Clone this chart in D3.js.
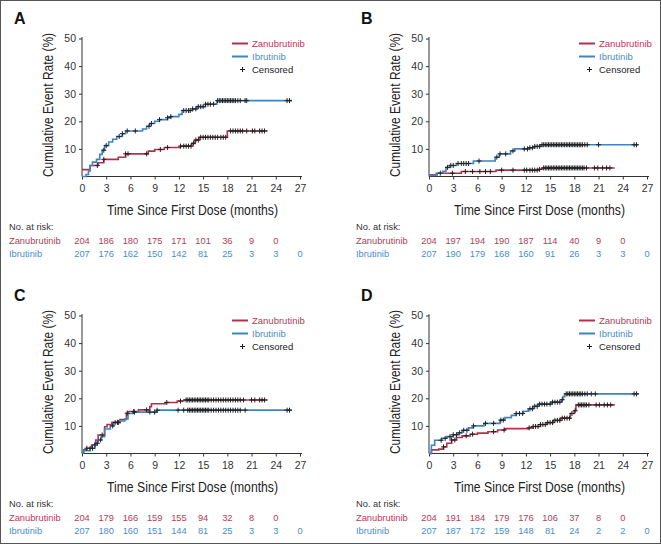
<!DOCTYPE html>
<html><head><meta charset="utf-8">
<script src="https://cdn.jsdelivr.net/npm/d3@7"></script>
<style>body{margin:0;background:#fff}svg{display:block}</style>
</head><body><svg id="c" width="661" height="544"></svg>
<script>
// ---------- DATA ----------
const months = [0,3,6,9,12,15,18,21,24,27];
const yTicks = [10,20,30,40,50];
const seriesNames = ["Zanubrutinib","Ibrutinib"];
const panelLabels = ["A","B","C","D"];

// step points [month, cumulative %]
const A_zanu = [[0,2.5],[1.0,4.0],[2.0,5.0],[2.7,6.2],[4.5,7.0],[5.4,8.2],[8.2,9.2],[9.0,9.8],[10.2,10.5],[12.2,11.0],[13.6,12.0],[14.0,13.2],[14.5,14.2],[18.0,16.5]];
const A_zanuEnd = 23.0;
const A_ibru = [[0,0],[0.5,0.7],[0.8,2.0],[1.0,4.0],[1.3,5.2],[1.8,6.2],[2.2,8.0],[2.5,9.5],[2.8,11.2],[3.3,12.5],[3.8,13.5],[4.3,14.5],[5.0,15.5],[5.4,16.5],[7.5,17.2],[8.0,18.2],[8.4,19.2],[9.0,20.0],[9.6,20.6],[10.6,21.3],[11.0,21.7],[12.0,22.5],[12.4,23.9],[13.7,24.5],[14.2,25.3],[15.3,26.2],[16.7,27.5]];
const A_ibruEnd = 26.0;
const A_zanuCens = [1.9,2.7,5.4,5.7,8.0,9.7,10.6,12.2,12.6,12.9,13.2,13.5,13.8,14.1,14.4,14.7,15.0,15.3,15.6,15.9,16.2,16.5,16.8,17.2,17.5,17.8,18.4,18.7,19.0,19.3,19.6,19.9,20.4,21.1,21.4,22.0,22.3,22.6];
const A_ibruCens = [2.7,3.0,4.6,5.0,5.6,6.6,8.3,8.6,9.6,10.6,11.0,12.6,12.9,13.2,13.4,13.7,14.1,14.4,14.7,15.0,15.3,15.6,15.9,16.3,16.8,17.0,17.2,17.4,17.6,17.8,18.0,18.2,18.4,18.6,18.8,19.0,19.3,19.6,20.2,20.4,25.4,25.7];

const B_zanu = [[0,0.6],[1.0,1.2],[4.0,1.8],[8.3,2.3],[13.6,2.6],[14.0,3.1]];
const B_zanuEnd = 23.0;
const B_ibru = [[0,0.4],[0.9,1.2],[1.7,1.9],[2.1,3.3],[2.6,4.0],[3.4,4.7],[5.5,5.6],[8.2,7.0],[8.7,8.2],[10.1,9.3],[10.6,10.0],[12.3,10.4],[13.1,10.9],[13.8,11.5]];
const B_ibruEnd = 25.9;
const B_zanuCens = [2.9,4.5,5.4,6.3,7.0,7.6,9.0,10.4,11.8,12.1,12.5,12.8,13.1,13.4,13.7,14.2,14.4,14.6,14.8,15.0,15.2,15.4,15.6,15.8,16.0,16.2,16.4,16.6,16.8,17.0,17.2,17.4,17.6,17.8,18.0,18.2,18.4,18.6,18.8,19.0,19.2,19.5,20.5,20.9,21.5,22.0,22.4];
const B_ibruCens = [1.4,2.3,2.7,3.0,3.6,4.0,4.3,4.6,4.9,6.2,8.4,8.8,9.5,10.4,11.8,12.2,12.5,12.8,13.1,13.4,13.7,14.0,14.2,14.4,14.6,14.8,15.0,15.2,15.4,15.6,15.8,16.0,16.2,16.4,16.6,16.8,17.0,17.2,17.4,17.6,17.8,18.0,18.2,18.4,18.6,18.8,19.0,19.3,19.6,21.0,25.4,25.7];

const C_zanu = [[0,0.3],[0.2,1.3],[0.6,1.9],[1.2,3.1],[1.7,4.9],[2.0,6.7],[2.8,9.7],[3.1,10.5],[3.7,11.3],[4.7,12.3],[5.5,14.6],[5.7,15.2],[7.0,15.8],[8.4,17.0],[8.6,18.0],[10.3,18.5],[11.8,19.0],[12.6,19.4]];
const C_zanuEnd = 23.0;
const C_ibru = [[0,0.3],[0.2,1.0],[1.0,1.9],[1.6,3.7],[2.0,4.9],[2.4,6.1],[2.8,8.9],[3.5,10.0],[3.9,11.2],[4.7,11.8],[5.3,12.5],[5.7,14.5],[6.3,15.0],[9.3,15.7]];
const C_ibruEnd = 26.0;
const C_zanuCens = [0.6,1.0,1.6,2.5,4.4,5.6,6.4,8.0,10.5,12.2,12.9,13.1,13.3,13.5,13.7,13.9,14.1,14.3,14.5,14.7,14.9,15.1,15.3,15.5,15.7,16.0,16.3,16.6,16.9,17.2,17.5,17.8,18.1,18.4,18.7,19.0,19.3,19.6,20.0,21.0,21.4,22.0,22.3,22.6];
const C_ibruCens = [1.3,1.9,2.3,3.8,4.1,4.5,6.5,8.4,9.0,9.3,11.9,12.6,13.1,13.3,13.5,13.7,13.9,14.1,14.3,14.5,14.7,14.9,15.1,15.3,15.5,15.7,16.0,16.3,16.6,16.9,17.2,17.5,17.8,18.1,18.4,18.7,19.0,19.3,19.6,20.2,25.4,25.7];

const D_zanu = [[0,0],[0.3,1.3],[1.2,1.6],[1.8,2.4],[2.2,3.7],[2.8,4.9],[3.4,5.8],[4.1,6.4],[5.1,7.0],[6.0,7.4],[7.3,7.9],[8.5,8.5],[9.4,9.0],[12.3,9.3],[12.9,9.8],[13.8,10.5],[14.6,11.2],[15.4,12.0],[16.3,12.8],[17.5,14.5],[18.0,15.5],[18.2,17.6]];
const D_zanuEnd = 23.0;
const D_ibru = [[0,0],[0.3,3.0],[0.7,4.8],[1.6,5.5],[2.2,6.1],[3.0,6.8],[3.6,7.5],[4.1,8.4],[4.9,9.3],[5.5,10.0],[6.8,10.9],[8.8,12.1],[9.4,13.0],[10.2,13.8],[10.8,14.5],[11.7,15.3],[12.3,16.2],[12.9,17.1],[13.5,17.9],[15.1,18.6],[16.4,19.5],[16.6,20.6],[16.8,21.6]];
const D_ibruEnd = 26.0;
const D_zanuCens = [1.8,2.8,3.2,4.6,5.4,8.0,9.3,12.4,12.9,13.2,13.5,13.8,14.1,14.4,14.7,15.0,15.3,15.6,15.9,16.2,16.5,16.8,17.1,17.4,17.7,18.1,18.5,18.7,18.9,19.1,19.3,19.5,19.8,20.7,21.1,21.7,22.1,22.5];
const D_ibruCens = [1.5,2.0,2.6,3.0,3.4,3.8,4.3,4.7,5.5,7.0,8.0,8.9,9.2,10.8,11.2,11.6,12.5,12.8,13.1,13.4,13.7,14.0,14.3,14.6,15.0,15.3,15.6,15.9,16.2,16.5,17.0,17.2,17.4,17.6,17.8,18.0,18.2,18.4,18.6,18.8,19.0,19.3,19.6,20.1,20.6,25.4,25.7];

// numbers at risk
const A_zanuRisk = [204,186,180,175,171,101,36,9,0];
const A_ibruRisk = [207,176,162,150,142,81,25,3,3,0];
const B_zanuRisk = [204,197,194,190,187,114,40,9,0];
const B_ibruRisk = [207,190,179,168,160,91,26,3,3,0];
const C_zanuRisk = [204,179,166,159,155,94,32,8,0];
const C_ibruRisk = [207,180,160,151,144,81,25,3,3,0];
const D_zanuRisk = [204,191,184,179,176,106,37,8,0];
const D_ibruRisk = [207,187,172,159,148,81,24,2,2,0];

// ---------- DRAW ----------
const RED = "#b3304b", BLUE = "#3d84c4";
const RED_T = "#b83a55", BLUE_T = "#4a8dca";
const SANS = "'Liberation Sans', Arial, sans-serif";

const svg = d3.select("#c");
svg.append("rect").attr("x",0.5).attr("y",0.5).attr("width",660).attr("height",543)
  .attr("fill","#fff").attr("stroke","#555").attr("stroke-width",1);

const panels = [
  {label:"A", ox:0,   oy:0,   zanu:A_zanu, zEnd:A_zanuEnd, ibru:A_ibru, iEnd:A_ibruEnd, zC:A_zanuCens, iC:A_ibruCens, zR:A_zanuRisk, iR:A_ibruRisk},
  {label:"B", ox:347, oy:0,   zanu:B_zanu, zEnd:B_zanuEnd, ibru:B_ibru, iEnd:B_ibruEnd, zC:B_zanuCens, iC:B_ibruCens, zR:B_zanuRisk, iR:B_ibruRisk},
  {label:"C", ox:0,   oy:277, zanu:C_zanu, zEnd:C_zanuEnd, ibru:C_ibru, iEnd:C_ibruEnd, zC:C_zanuCens, iC:C_ibruCens, zR:C_zanuRisk, iR:C_ibruRisk},
  {label:"D", ox:347, oy:277, zanu:D_zanu, zEnd:D_zanuEnd, ibru:D_ibru, iEnd:D_ibruEnd, zC:D_zanuCens, iC:D_ibruCens, zR:D_zanuRisk, iR:D_ibruRisk}
];

function valueAt(steps, t){
  let v = steps[0][1];
  for (const s of steps){ if (s[0] <= t) v = s[1]; else break; }
  return v;
}

panels.forEach(p => {
  const g = svg.append("g").attr("transform", `translate(${p.ox},${p.oy})`);
  const x = d3.scaleLinear().domain([0,27]).range([82,300]);
  const y = d3.scaleLinear().domain([0,50]).range([176.5,38.5]);

  // panel letter
  g.append("text").attr("x",14).attr("y",24).text(p.label)
    .attr("font-family",SANS).attr("font-weight","bold").attr("font-size",16).attr("fill","#111");

  // axes
  const xa = g.append("g").attr("transform","translate(0,176.5)")
    .call(d3.axisBottom(x).tickValues(months).tickSize(3).tickPadding(5).tickSizeOuter(0));
  const ya = g.append("g").attr("transform","translate(82,0)")
    .call(d3.axisLeft(y).tickValues(yTicks).tickSize(3).tickPadding(3).tickSizeOuter(0));
  [xa,ya].forEach(a => {
    a.selectAll("path,line").attr("stroke","#333").attr("stroke-width",1);
    a.selectAll("text").attr("font-family",SANS).attr("font-size",10.5).attr("fill","#333");
  });
  ya.select(".domain").attr("d","M0,176.5V37");
  xa.select(".domain").attr("d","M82,0H302");

  // axis titles (condensed look via textLength)
  g.append("text").attr("transform","translate(52.5,105) rotate(-90)").attr("text-anchor","middle")
    .attr("textLength",144).attr("lengthAdjust","spacingAndGlyphs")
    .text("Cumulative Event Rate (%)").attr("font-family",SANS).attr("font-size",14).attr("fill","#222");
  g.append("text").attr("x",192.5).attr("y",215).attr("text-anchor","middle")
    .attr("textLength",171).attr("lengthAdjust","spacingAndGlyphs")
    .text("Time Since First Dose (months)").attr("font-family",SANS).attr("font-size",14).attr("fill","#222");

  // curves
  const line = d3.line().x(d=>x(d[0])).y(d=>y(d[1])).curve(d3.curveStepAfter);
  const series = [
    {steps:p.zanu, end:p.zEnd, color:RED, cens:p.zC},
    {steps:p.ibru, end:p.iEnd, color:BLUE, cens:p.iC}
  ];
  series.forEach(s => {
    const pts = s.steps.concat([[s.end, s.steps[s.steps.length-1][1]]]);
    g.append("path").datum(pts).attr("d",line).attr("fill","none")
      .attr("stroke",s.color).attr("stroke-width",1.6);
  });
  series.forEach(s => {
    g.append("g").selectAll("path").data(s.cens).join("path")
      .attr("d", t => {
        const cx = x(t), cy = y(valueAt(s.steps,t));
        return `M${cx-2.5},${cy}H${cx+2.5}M${cx},${cy-2.5}V${cy+2.5}`;
      })
      .attr("stroke","#222").attr("stroke-width",1).attr("fill","none");
  });

  // legend
  const lg = g.append("g");
  const lx0 = 232, lx1 = 248, ltx = 252;
  [[seriesNames[0],RED,RED_T,43.5],[seriesNames[1],BLUE,BLUE_T,56.5]].forEach(([n,c,tc,yy]) => {
    lg.append("line").attr("x1",lx0).attr("x2",lx1).attr("y1",yy).attr("y2",yy)
      .attr("stroke",c).attr("stroke-width",2);
    lg.append("text").attr("x",ltx).attr("y",yy+3.5).text(n)
      .attr("font-family",SANS).attr("font-size",9.5).attr("fill",tc);
  });
  lg.append("path").attr("d",`M${240},69.5H${245}M${242.5},67V72`).attr("stroke","#222").attr("stroke-width",1);
  lg.append("text").attr("x",ltx).attr("y",73).text("Censored")
    .attr("font-family",SANS).attr("font-size",9.5).attr("fill","#222");

  // at risk table
  g.append("text").attr("x",9).attr("y",229.5).text("No. at risk:")
    .attr("font-family",SANS).attr("font-size",9.3).attr("fill","#333");
  [[seriesNames[0],p.zR,RED_T,243.5],[seriesNames[1],p.iR,BLUE_T,256.5]].forEach(([n,vals,c,yy]) => {
    g.append("text").attr("x",9).attr("y",yy).text(n)
      .attr("font-family",SANS).attr("font-size",9.3).attr("fill",c);
    g.append("g").selectAll("text").data(vals).join("text")
      .attr("x",(d,i)=>x(months[i])).attr("y",yy).attr("text-anchor","middle").text(d=>d)
      .attr("font-family",SANS).attr("font-size",9.3).attr("fill",c);
  });
});
</script>
</body></html>
